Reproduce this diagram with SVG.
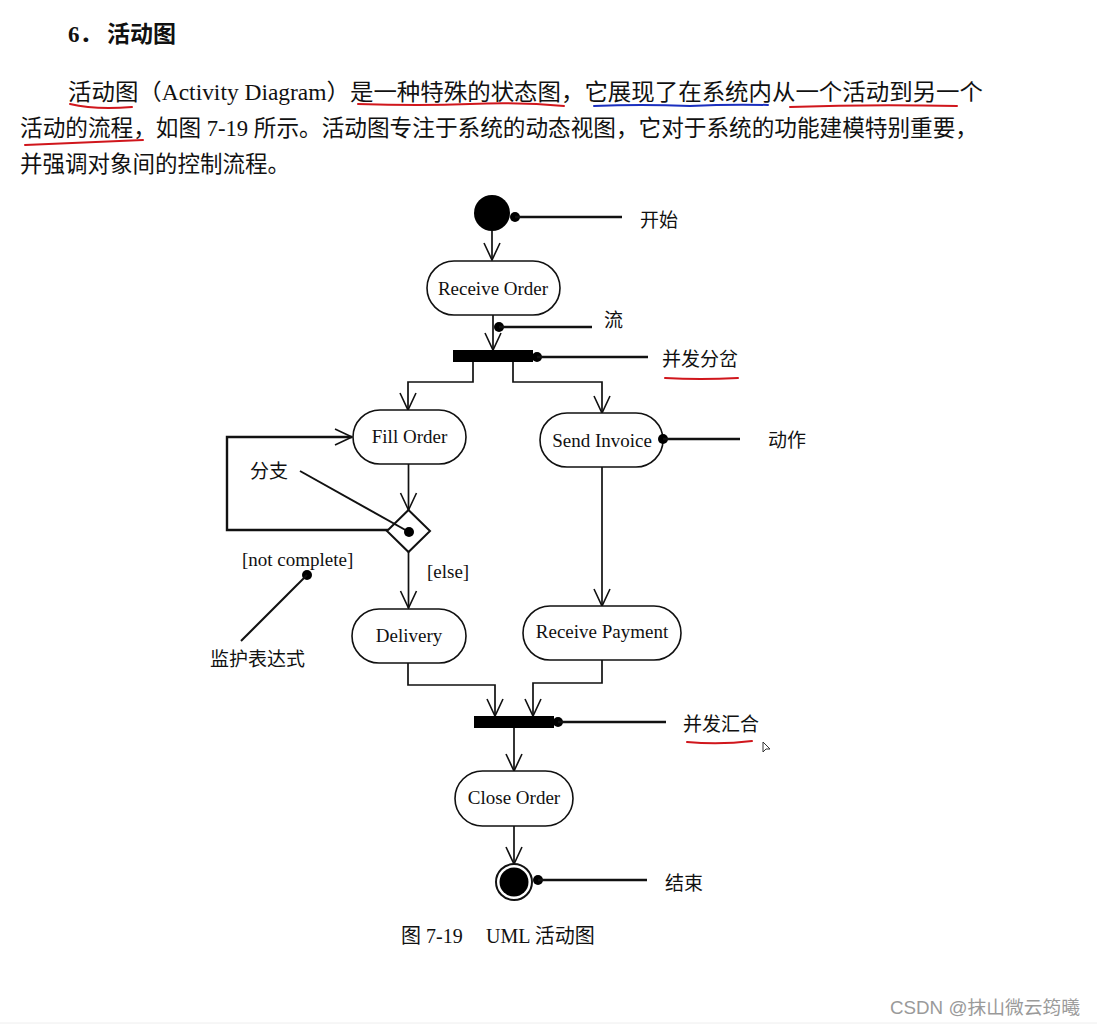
<svg xmlns="http://www.w3.org/2000/svg" width="1097" height="1027" viewBox="0 0 1097 1027">
<style>
.para{font-family:"Liberation Serif","Noto Sans CJK SC",serif;font-size:22.5px;fill:#111}
.lbl{font-family:"Liberation Serif","Noto Sans CJK SC",serif;font-size:19px;fill:#111}
.node{fill:#fff;stroke:#111;stroke-width:1.6}
.ntxt{font-family:"Liberation Serif","Noto Sans CJK SC",serif;font-size:19px;fill:#111;text-anchor:middle}
.flow{fill:none;stroke:#111;stroke-width:1.7;marker-end:url(#arr)}
.line{fill:none;stroke:#111;stroke-width:1.7}
.note{fill:none;stroke:#111;stroke-width:2.6}
.red{fill:none;stroke:#d0161c;stroke-width:2;stroke-linecap:round}
.blue{fill:none;stroke:#1a2fbf;stroke-width:2;stroke-linecap:round}
</style>
<defs>
<marker id="arr" viewBox="-18 -9 19 18" refX="0" refY="0" markerWidth="19" markerHeight="18" markerUnits="userSpaceOnUse" orient="auto" overflow="visible">
<path d="M-17,-8 L0,0 L-17,8" fill="none" stroke="#111" stroke-width="1.6"/>
</marker>
</defs>
<rect width="1097" height="1027" fill="#fff"/>

<g id="text-block">
<text x="68" y="42" style="font-family:'Liberation Serif','Noto Sans CJK SC',serif;font-size:23px;font-weight:bold;fill:#111">6．<tspan x="107">活动图</tspan></text>
<text class="para" x="68" y="100" textLength="915" lengthAdjust="spacingAndGlyphs">活动图（Activity Diagram）是一种特殊的状态图，它展现了在系统内从一个活动到另一个</text>
<text class="para" x="20" y="136" textLength="958" lengthAdjust="spacingAndGlyphs">活动的流程，如图 7-19 所示。活动图专注于系统的动态视图，它对于系统的功能建模特别重要，</text>
<text class="para" x="20" y="172">并强调对象间的控制流程。</text>
<path class="red" d="M70,104 Q95,110 132,107"/>
<path class="red" d="M358,104 Q420,106 470,104 Q520,102 564,106"/>
<path class="blue" d="M594,106 Q640,104 690,106 Q730,104 768,105"/>
<path class="red" d="M790,107 Q870,104 957,106"/>
<path class="red" d="M25,145 Q90,142 143,140"/>
</g>

<g id="connectors">
<line class="flow" x1="492" y1="231" x2="492" y2="260"/>
<line class="flow" x1="493" y1="315" x2="493" y2="350"/>
<polyline class="flow" points="473,362 473,382 408,382 408,410"/>
<polyline class="flow" points="513,362 513,382 602,382 602,413"/>
<line class="flow" x1="408.5" y1="464" x2="408.5" y2="510"/>
<polyline class="flow" points="388,530 227,530 227,437 352,437" style="stroke-width:2.4"/>
<line class="flow" x1="408.5" y1="552" x2="408.5" y2="608"/>
<line class="flow" x1="602" y1="467" x2="602" y2="606"/>
<polyline class="flow" points="408,663 408,685 495,685 495,716"/>
<polyline class="flow" points="602,660 602,683 533,683 533,716"/>
<line class="flow" x1="514" y1="728" x2="514" y2="771"/>
<line class="flow" x1="514" y1="826" x2="514" y2="864"/>
</g>

<g id="start">
<circle cx="492" cy="213" r="18" fill="#000"/>
</g>
<g id="receive-order">
<rect class="node" x="427" y="261" width="133" height="54" rx="27"/>
<text class="ntxt" x="493" y="295">Receive Order</text>
</g>
<g id="fork">
<rect x="453" y="350" width="80" height="12" fill="#000"/>
</g>
<g id="fill-order">
<rect class="node" x="353" y="410" width="113" height="54" rx="27"/>
<text class="ntxt" x="409.5" y="443">Fill Order</text>
</g>
<g id="send-invoice">
<rect class="node" x="540" y="413" width="123" height="54" rx="27"/>
<text class="ntxt" x="602" y="447">Send Invoice</text>
</g>
<g id="branch">
<polygon points="408.5,510 430,531 408.5,552 387,531" fill="#fff" stroke="#111" stroke-width="2"/>
</g>
<g id="delivery">
<rect class="node" x="352" y="609" width="114" height="54" rx="27"/>
<text class="ntxt" x="409" y="642">Delivery</text>
</g>
<g id="receive-payment">
<rect class="node" x="523" y="606" width="158" height="54" rx="27"/>
<text class="ntxt" x="602" y="638">Receive Payment</text>
</g>
<g id="join">
<rect x="474" y="716" width="80" height="12" fill="#000"/>
</g>
<g id="close-order">
<rect class="node" x="455" y="771" width="118" height="55" rx="27.5"/>
<text class="ntxt" x="514" y="804">Close Order</text>
</g>
<g id="end">
<circle cx="514" cy="882" r="18" fill="#fff" stroke="#111" stroke-width="2"/>
<circle cx="514" cy="882" r="14.5" fill="#000"/>
</g>

<g id="annotations">
<circle cx="515" cy="217" r="5" fill="#000"/>
<line class="note" x1="515" y1="217" x2="622" y2="217"/>
<text class="lbl" x="640" y="227">开始</text>

<circle cx="499" cy="327" r="5" fill="#000"/>
<line class="note" x1="499" y1="327" x2="592" y2="327"/>
<text class="lbl" x="604" y="327">流</text>

<circle cx="537" cy="357" r="5" fill="#000"/>
<line class="note" x1="537" y1="357" x2="648" y2="357"/>
<text class="lbl" x="662" y="366">并发分岔</text>
<path class="red" d="M665,378 Q700,380 738,378"/>

<circle cx="663" cy="439" r="5" fill="#000"/>
<line class="note" x1="663" y1="439" x2="740" y2="439"/>
<text class="lbl" x="768" y="447">动作</text>

<text class="lbl" x="250" y="478">分支</text>
<line class="line" x1="300" y1="471" x2="409" y2="532" style="stroke-width:2"/>
<circle cx="409" cy="532" r="5" fill="#000"/>

<text class="lbl" x="427" y="578">[else]</text>
<text class="lbl" x="242" y="566">[not complete]</text>
<circle cx="307" cy="575" r="5" fill="#000"/>
<line class="line" x1="307" y1="575" x2="241" y2="641" style="stroke-width:2"/>
<text class="lbl" x="210" y="666">监护表达式</text>

<circle cx="558" cy="722" r="5" fill="#000"/>
<line class="note" x1="558" y1="722" x2="666" y2="722"/>
<text class="lbl" x="683" y="731">并发汇合</text>
<path class="red" d="M687,742 Q720,745 752,741"/>
<path d="M763,742 L763,752 L766,749 L770,749 Z" fill="#fff" stroke="#333" stroke-width="1"/>

<circle cx="538" cy="880" r="5" fill="#000"/>
<line class="note" x1="538" y1="880" x2="647" y2="880"/>
<text class="lbl" x="665" y="890">结束</text>

<text class="lbl" x="401" y="943" style="font-size:20px">图 7-19<tspan x="486">UML 活动图</tspan></text>
</g>

<text x="890" y="1014" textLength="190" lengthAdjust="spacingAndGlyphs" style="font-family:'Liberation Sans','Noto Sans CJK SC',sans-serif;font-size:18px;fill:#9a9a9a">CSDN @抹山微云筠曦</text>
<line x1="0" y1="1023" x2="1097" y2="1023" stroke="#eeeeee" stroke-width="1"/>
</svg>
